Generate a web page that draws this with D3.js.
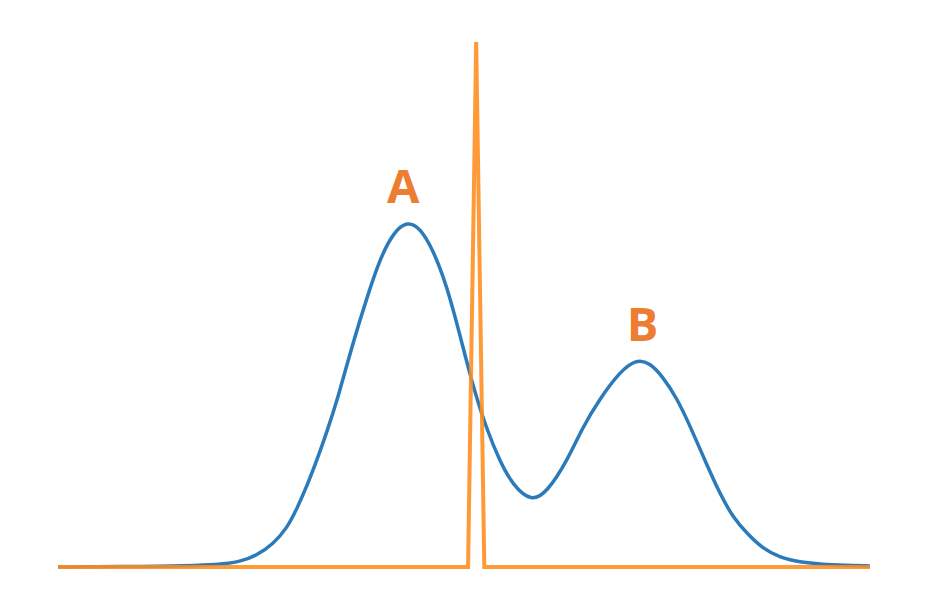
<!DOCTYPE html>
<html>
<head>
<meta charset="utf-8">
<script src="https://cdn.jsdelivr.net/npm/d3@7"></script>
<style>
  body { margin: 0; background: #fff; }
</style>
</head>
<body>
<div id="chart"></div>
<script>
// blue density curve (x, y in arbitrary units 0..100)
const curveX = [0, 11.3, 17.5, 20.0, 22.4, 24.5, 26.5, 28.2, 29.4, 30.7, 31.9, 33.1, 34.4, 36.3, 38.1, 39.7, 41.3, 43.0, 44.6, 46.2, 47.9, 49.5, 51.1, 52.8, 54.4, 56.0, 58.3, 60.2, 62.7, 64.6, 66.7, 69.2, 71.2, 72.9, 74.5, 76.2, 77.8, 79.7, 81.5, 83.1, 84.9, 86.8, 88.9, 91.4, 95.1, 100];
const curveY = [0, 0.1, 0.3, 0.5, 1.0, 2.2, 4.4, 7.4, 11.0, 15.6, 20.4, 25.7, 31.8, 42.6, 51.6, 58.9, 63.7, 65.9, 64.6, 60.4, 53.5, 44.2, 34.4, 26.2, 20.2, 15.6, 12.4, 14.2, 20.2, 26.6, 32.0, 37.2, 39.6, 38.9, 36.2, 32.2, 27.0, 20.2, 14.0, 9.5, 6.3, 3.5, 1.8, 0.9, 0.4, 0.2];

// orange spike
const spikeX = [0, 50.5, 51.5, 52.5, 100];
const spikeY = [0, 0, 100, 0, 0];

// labels
const labels = ["A", "B"];
const labelX = [42.5, 72.0];
const labelY = [69.3, 43.0];

const width = 927, height = 613;
const margin = { top: 42, right: 57, bottom: 46, left: 58 };

const svg = d3.select("#chart")
  .append("svg")
  .attr("width", width)
  .attr("height", height);

const x = d3.scaleLinear()
  .domain([0, 100])
  .range([margin.left, width - margin.right]);
const y = d3.scaleLinear()
  .domain([0, 100])
  .range([height - margin.bottom, margin.top]);

const blueData = curveX.map((v, i) => ({ x: v, y: curveY[i] }));
const orangeData = spikeX.map((v, i) => ({ x: v, y: spikeY[i] }));

svg.append("path")
  .datum(blueData)
  .attr("fill", "none")
  .attr("stroke", "#2b7bba")
  .attr("stroke-width", 3.5)
  .attr("d", d3.line().x(d => x(d.x)).y(d => y(d.y)).curve(d3.curveBasis));

svg.append("path")
  .datum(orangeData)
  .attr("fill", "none")
  .attr("stroke", "#ff8c1e")
  .attr("stroke-opacity", 0.88)
  .attr("stroke-width", 4)
  .attr("stroke-linejoin", "miter")
  .attr("d", d3.line().x(d => x(d.x)).y(d => y(d.y)));

svg.append("g")
  .selectAll("text")
  .data(labels)
  .enter()
  .append("text")
    .attr("x", (d, i) => x(labelX[i]))
    .attr("y", (d, i) => y(labelY[i]))
    .attr("text-anchor", "middle")
    .attr("font-family", "'Open Sans', sans-serif")
    .attr("font-weight", "bold")
    .attr("font-size", 47)
    .attr("fill", "#ed7d31")
    .text(d => d);
</script>
</body>
</html>
